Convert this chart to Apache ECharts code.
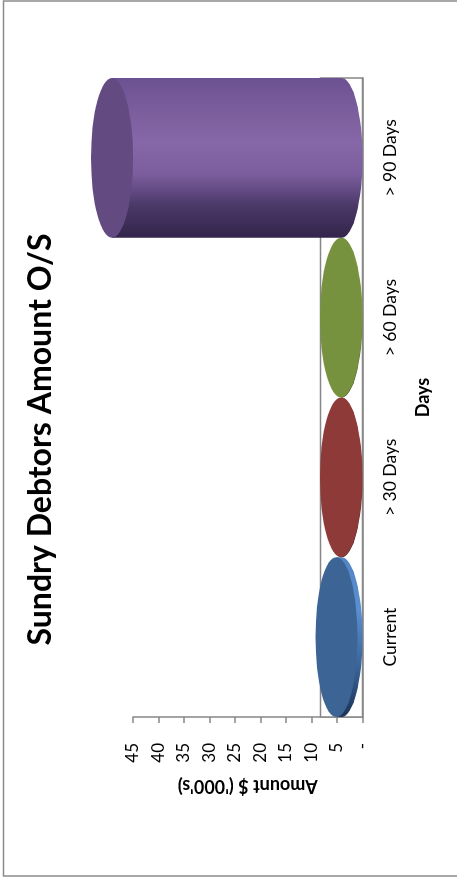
<!DOCTYPE html>
<html>
<head>
<meta charset="utf-8">
<title>Sundry Debtors Amount O/S</title>
<script src="https://cdn.jsdelivr.net/npm/echarts@6/dist/echarts.min.js"></script>
<style>
  html, body { margin: 0; padding: 0; background: #fff; overflow: hidden; }
  /* The chart is laid out landscape and turned a quarter turn anticlockwise onto the portrait page */
  #chart {
    position: absolute; left: 0; top: 0;
    width: 879px; height: 457px;
    transform-origin: 0 0;
    transform: translateY(879px) rotate(-90deg);
  }
</style>
</head>
<body>
<div id="chart"></div>
<script>
// Ageing buckets and outstanding amounts ($ '000)
const categories = ['Current', '> 30 Days', '> 60 Days', '> 90 Days'];
const amounts = [1, 0.1, 0.1, 45];

// Value axis range
const axisMin = 0;
const axisMax = 45;
const axisStep = 5;

// Cylinder colouring: side gradient (left to right) and flat top face
const palette = [
  { cap: '#3c6494', side: ['#1c3356', '#3b669c', '#5a8fd0', '#5286c6'] },
  { cap: '#8e3a39', side: ['#4a1d1c', '#7a3231', '#a04645', '#93403f'] },
  { cap: '#77923e', side: ['#3d4c1f', '#647d34', '#8aa84b', '#7e9a44'] },
  { cap: '#634b82', side: ['#33254a', '#4a3868', '#7c5e9e', '#8667a7', '#7a5d9c', '#6c5292'] }
];

const FLOOR_DEPTH = 42;          // projected depth of the floor, px
const AXIS_GREY = '#868686';
const FONT = 'Lato, "Open Sans", sans-serif';

function gradient(stops) {
  return new echarts.graphic.LinearGradient(0, 0, 1, 0,
    stops.map((c, k) => ({ offset: k / (stops.length - 1), color: c })));
}

// Floor of the 3D plot: a band along the category axis
function renderFloor(params, api) {
  const cs = params.coordSys;
  return {
    type: 'rect',
    shape: { x: cs.x, y: cs.y + cs.height - FLOOR_DEPTH, width: cs.width, height: FLOOR_DEPTH },
    style: { fill: '#ffffff', stroke: AXIS_GREY, lineWidth: 1.5 }
  };
}

// One cylinder per category, standing on the floor
function renderCylinder(params, api) {
  const i = api.value(0);
  const v = api.value(1);
  const p0 = api.coord([i, 0]);
  const p1 = api.coord([i, v]);
  const rx = api.size([1, 0])[0] / 2;
  const ry = FLOOR_DEPTH / 2;
  const cx = p0[0];
  const yb = p0[1] - ry;
  const yt = p1[1] - ry;
  const pal = palette[params.dataIndex];
  const side = `M${cx - rx} ${yt} L${cx - rx} ${yb} A${rx} ${ry} 0 0 0 ${cx + rx} ${yb} L${cx + rx} ${yt} Z`;
  const cap = `M${cx - rx} ${yt} A${rx} ${ry} 0 0 0 ${cx + rx} ${yt} A${rx} ${ry} 0 0 0 ${cx - rx} ${yt} Z`;
  return {
    type: 'group',
    children: [
      { type: 'path', shape: { pathData: side }, style: { fill: gradient(pal.side) } },
      { type: 'path', shape: { pathData: cap }, style: { fill: pal.cap } }
    ]
  };
}

const chart = echarts.init(document.getElementById('chart'), null, { renderer: 'canvas' });

chart.setOption({
  backgroundColor: '#ffffff',
  animation: false,
  title: {
    text: 'Sundry Debtors Amount O/S',
    left: 'center',
    top: 20,
    textStyle: { fontFamily: FONT, fontSize: 32, fontWeight: 'bold', color: '#000' }
  },
  graphic: [{
    type: 'rect',
    shape: { x: 3, y: 3.5, width: 875, height: 470 },
    style: { fill: 'none', stroke: '#8c8c8c', lineWidth: 1.5 },
    silent: true
  }],
  grid: { left: 162, right: 78, top: 133, bottom: 94.5 },
  xAxis: {
    type: 'category',
    data: categories,
    name: 'Days',
    nameLocation: 'middle',
    nameGap: 52,
    nameTextStyle: { fontFamily: FONT, fontSize: 18, fontWeight: 'bold', color: '#000' },
    axisLine: { show: true, lineStyle: { color: AXIS_GREY, width: 1.5 } },
    axisTick: { show: false },
    axisLabel: { margin: 19, fontFamily: FONT, fontSize: 17.5, color: '#000' },
    splitLine: { show: false }
  },
  yAxis: {
    type: 'value',
    min: axisMin,
    max: axisMax,
    interval: axisStep,
    name: "Amount $ ('000's)",
    nameLocation: 'middle',
    nameRotate: 90,
    nameGap: 60,
    nameTextStyle: { fontFamily: FONT, fontSize: 18, fontWeight: 'bold', color: '#000' },
    axisLine: { show: true, lineStyle: { color: AXIS_GREY, width: 1.5 } },
    axisTick: { show: true, inside: false, length: 6, lineStyle: { color: AXIS_GREY, width: 1.5 } },
    axisLabel: {
      margin: 26,
      fontFamily: FONT,
      fontSize: 17,
      color: '#000',
      formatter: (val) => (val === 0 ? '-' : String(val))
    },
    splitLine: { show: false }
  },
  series: [
    {
      type: 'custom',
      name: 'floor',
      z: 1,
      silent: true,
      renderItem: renderFloor,
      data: [[0, 0]]
    },
    {
      type: 'custom',
      name: 'Amount',
      z: 3,
      clip: false,
      renderItem: renderCylinder,
      encode: { x: 0, y: 1 },
      data: amounts.map((a, i) => [i, a])
    }
  ]
});
</script>
</body>
</html>
